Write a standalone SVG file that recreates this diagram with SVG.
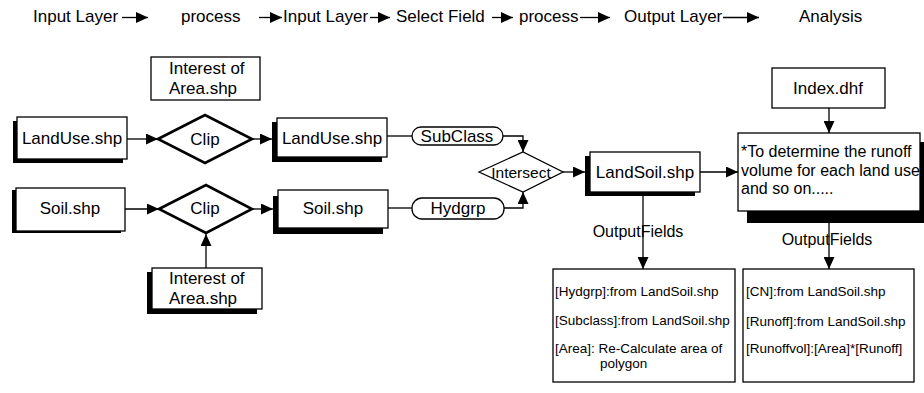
<svg xmlns="http://www.w3.org/2000/svg" width="924" height="393" viewBox="0 0 924 393">
<defs>
<marker id="ah" markerUnits="userSpaceOnUse" markerWidth="12" markerHeight="11" refX="12" refY="5.5" orient="auto">
<path d="M0,0 L12,5.5 L0,11 Z" fill="#000"/>
</marker>
<style>
text{font-family:"Liberation Sans",Arial,sans-serif;fill:#000}
.t17{font-size:17px}
.mid{text-anchor:middle}
.box{fill:#fff;stroke:#000;stroke-width:1.3}
.sh{fill:#000}
.dia{fill:#fff;stroke:#000;stroke-width:2.6;stroke-linejoin:miter}
.thin{fill:#fff;stroke:#000;stroke-width:1.3}
.con{fill:none;stroke:#000;stroke-width:1.3}
.arr{marker-end:url(#ah)}
.f16{font-size:16px}
.f13{font-size:13.5px}
</style>
</defs>

<g id="header">
<text class="t17" x="33" y="22">Input Layer</text>
<text class="t17" x="181" y="22">process</text>
<text class="t17" x="283" y="22">Input Layer</text>
<text class="t17" x="396" y="22">Select Field</text>
<text class="t17" x="519" y="22">process</text>
<text class="t17" x="624" y="22">Output Layer</text>
<text class="t17" x="799" y="22">Analysis</text>
</g>

<g id="header-arrows">
<line class="con arr" x1="122" y1="17.5" x2="148" y2="17.5"/>
<line class="con arr" x1="259" y1="17.5" x2="282" y2="17.5"/>
<line class="con arr" x1="370" y1="17.5" x2="390" y2="17.5"/>
<line class="con arr" x1="492" y1="17.5" x2="513" y2="17.5"/>
<line class="con arr" x1="580" y1="17.5" x2="610" y2="17.5"/>
<line class="con arr" x1="723" y1="17.5" x2="759" y2="17.5"/>
</g>

<g id="connectors">
<line class="con arr" x1="127" y1="139" x2="158" y2="139"/>
<line class="con arr" x1="125" y1="209" x2="159" y2="209"/>
<line class="con arr" x1="252" y1="139" x2="272" y2="139"/>
<line class="con arr" x1="252" y1="209" x2="273" y2="209"/>
<line class="con arr" x1="206" y1="268" x2="206" y2="234"/>
<line class="con" x1="387" y1="136" x2="412" y2="136"/>
<path class="con arr" d="M503,136 H523 V152"/>
<line class="con" x1="388" y1="208" x2="412" y2="208"/>
<path class="con arr" d="M504,208 H523 V192"/>
<line class="con arr" x1="563" y1="172" x2="585" y2="172"/>
<line class="con arr" x1="700" y1="172" x2="738" y2="172"/>
<line class="con arr" x1="643" y1="196" x2="643" y2="269"/>
<line class="con arr" x1="829" y1="108" x2="829" y2="133"/>
<line class="con arr" x1="829" y1="223" x2="829" y2="269"/>
</g>

<g id="interest-top">
<rect class="box" x="151" y="57" width="109" height="43"/>
<text class="t17" x="169" y="74">Interest of</text>
<text class="t17" x="169" y="94">Area.shp</text>
</g>

<g id="landuse-in">
<rect class="sh" x="13" y="121" width="110" height="42"/>
<rect class="box" x="17" y="117" width="110" height="42"/>
<text class="t17 mid" x="72" y="144">LandUse.shp</text>
</g>

<g id="soil-in">
<rect class="sh" x="12" y="190" width="109" height="43"/>
<rect class="box" x="16" y="188" width="109" height="43"/>
<text class="t17 mid" x="70" y="214">Soil.shp</text>
</g>

<g id="clip1">
<polygon class="dia" points="158,139 205,115 252,139 205,163"/>
<text class="t17 mid" x="205" y="145">Clip</text>
</g>

<g id="clip2">
<polygon class="dia" points="159,209 206,185 252,209 206,233"/>
<text class="t17 mid" x="205" y="214">Clip</text>
</g>

<g id="interest-bottom">
<rect class="sh" x="147" y="272" width="110" height="42"/>
<rect class="box" x="152" y="268" width="110" height="41"/>
<text class="t17" x="169" y="284">Interest of</text>
<text class="t17" x="169" y="304">Area.shp</text>
</g>

<g id="landuse-clip">
<rect class="sh" x="272" y="122" width="110" height="40"/>
<rect class="box" x="277" y="118" width="110" height="39"/>
<text class="t17 mid" x="332" y="144">LandUse.shp</text>
</g>

<g id="soil-clip">
<rect class="sh" x="273" y="196" width="110" height="38"/>
<rect class="box" x="278" y="190" width="110" height="38"/>
<text class="t17 mid" x="333" y="214">Soil.shp</text>
</g>

<g id="subclass">
<rect class="thin" x="412" y="127" width="91" height="18" rx="9"/>
<text class="t17 mid" x="457" y="142">SubClass</text>
</g>

<g id="hydgrp">
<rect class="thin" x="412" y="198" width="92" height="21" rx="10"/>
<text class="t17 mid" x="458" y="214">Hydgrp</text>
</g>

<g id="intersect">
<polygon class="thin" points="479,172 523,152 563,172 523,192"/>
<text class="mid" style="font-size:15.5px" x="521" y="178">Intersect</text>
</g>

<g id="landsoil">
<rect class="sh" x="585" y="156" width="110" height="40"/>
<rect class="box" x="590" y="152" width="110" height="40"/>
<text class="t17 mid" x="645" y="178">LandSoil.shp</text>
</g>

<g id="index">
<rect class="box" x="772" y="68" width="113" height="40"/>
<text class="t17 mid" x="828" y="94">Index.dhf</text>
</g>

<g id="analysis">
<rect class="sh" x="747" y="142" width="182" height="81"/>
<rect class="box" x="738" y="133" width="182" height="78"/>
<text class="f16" x="741" y="157">*To determine the runoff</text>
<text class="f16" x="741" y="175.5">volume for each land use</text>
<text class="f16" x="741" y="194">and so on.....</text>
</g>

<g id="labels">
<text class="f16 mid" x="638" y="237">OutputFields</text>
<text class="f16 mid" x="827" y="245">OutputFields</text>
</g>

<g id="fields-landsoil">
<rect class="box" x="553" y="269" width="182" height="113"/>
<text class="f13" x="555" y="296">[Hydgrp]:from LandSoil.shp</text>
<text class="f13" x="555" y="325">[Subclass]:from LandSoil.shp</text>
<text class="f13" x="555" y="353">[Area]: Re-Calculate area of</text>
<text class="f13" x="600" y="368">polygon</text>
</g>

<g id="fields-analysis">
<rect class="box" x="743" y="269" width="171" height="113"/>
<text class="f13" x="746" y="296">[CN]:from LandSoil.shp</text>
<text class="f13" x="746" y="326">[Runoff]:from LandSoil.shp</text>
<text class="f13" x="746" y="353">[Runoffvol]:[Area]*[Runoff]</text>
</g>
</svg>
